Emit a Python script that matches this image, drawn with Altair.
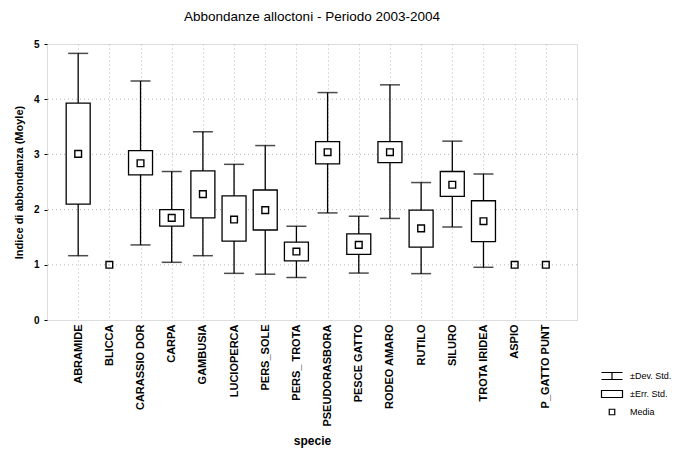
import altair as alt
import pandas as pd

species = ["ABRAMIDE", "BLICCA", "CARASSIO DOR", "CARPA", "GAMBUSIA", "LUCIOPERCA",
           "PERS_SOLE", "PERS_ TROTA", "PSEUDORASBORA", "PESCE GATTO", "RODEO AMARO",
           "RUTILO", "SILURO", "TROTA IRIDEA", "ASPIO", "P_GATTO PUNT"]
mean = [3.01, 1.00, 2.84, 1.85, 2.28, 1.82, 1.99, 1.24, 3.04, 1.36, 3.04, 1.66, 2.45, 1.79, 1.00, 1.00]
se_low = [2.10, None, 2.63, 1.70, 1.85, 1.43, 1.63, 1.07, 2.83, 1.19, 2.85, 1.32, 2.24, 1.42, None, None]
se_high = [3.93, None, 3.07, 2.00, 2.70, 2.25, 2.355, 1.41, 3.23, 1.56, 3.23, 1.99, 2.69, 2.16, None, None]
sd_low = [1.165, None, 1.36, 1.045, 1.165, 0.845, 0.83, 0.77, 1.94, 0.85, 1.84, 0.84, 1.685, 0.955, None, None]
sd_high = [4.83, None, 4.33, 2.69, 3.41, 2.82, 3.16, 1.70, 4.12, 1.88, 4.26, 2.49, 3.24, 2.645, None, None]

legend_items = ["±Dev. Std.", "±Err. Std.", "Media"]
legend_shapes = ["M-2.1,-0.7H2.1M0,-0.7V0.7M-2.1,0.7H2.1",
                 "M-2.1,-0.7H2.1V0.7H-2.1Z",
                 "M-0.55,-0.55H0.55V0.55H-0.55Z"]

df = pd.DataFrame({"specie": species, "media": mean, "se_low": se_low, "se_high": se_high,
                   "sd_low": sd_low, "sd_high": sd_high})
dfv = df.dropna()
leg = pd.DataFrame({"voce": legend_items})

FONT = "Liberation Sans"
x = alt.X("specie:N", sort=species, title="specie",
          scale=alt.Scale(type="point", padding=1),
          axis=alt.Axis(labelAngle=-90, labelFontWeight="bold", labelFontSize=11,
                        labelFont=FONT, titleFont=FONT, titleFontSize=12, titleFontWeight="bold",
                        titlePadding=9, tickSize=0, labelPadding=4, domain=False,
                        grid=True, gridDash=[1, 3], gridColor="#b8b8b8", labelColor="black",
                        titleColor="black"))
yscale = alt.Scale(domain=[0, 5], nice=False)
y = alt.Y("sd_low:Q", scale=yscale, title="Indice di abbondanza (Moyle)",
          axis=alt.Axis(values=[i * 0.25 for i in range(21)],
                        labelExpr="datum.value % 1 == 0 ? datum.label : ''",
                        labelFontWeight="bold", labelFontSize=10, labelFont=FONT,
                        titleFont=FONT, titleFontSize=11, titleFontWeight="bold",
                        tickSize=3, tickColor="black", labelPadding=5, domain=False,
                        grid=False, titlePadding=9, labelColor="black", titleColor="black"))

hgrid = alt.Chart(pd.DataFrame({"v": [1, 2, 3, 4]})).mark_rule(
    color="#b8b8b8", strokeDash=[1, 3], strokeWidth=1
).encode(y=alt.Y("v:Q", scale=yscale))

whisk = alt.Chart(dfv).mark_rule(color="black", strokeWidth=1.3).encode(
    x=x, y=y, y2="sd_high:Q")
cap_lo = alt.Chart(dfv).mark_tick(color="black", size=20, thickness=1.5).encode(
    x=x, y=alt.Y("sd_low:Q", scale=yscale))
cap_hi = alt.Chart(dfv).mark_tick(color="black", size=20, thickness=1.5).encode(
    x=x, y=alt.Y("sd_high:Q", scale=yscale))
box = alt.Chart(dfv).mark_bar(fill="white", stroke="black", strokeWidth=1.3, width=24).encode(
    x=x, y=alt.Y("se_low:Q", scale=yscale), y2="se_high:Q")
pts = alt.Chart(df).mark_square(size=45, filled=False, color="black", strokeWidth=1.4,
                                opacity=1).encode(x=x, y=alt.Y("media:Q", scale=yscale))

legend_layer = alt.Chart(leg).mark_point(opacity=0).encode(
    shape=alt.Shape("voce:N", scale=alt.Scale(domain=legend_items, range=legend_shapes),
                    legend=alt.Legend(title=None, orient="none", legendX=559, legendY=326,
                                      padding=0, symbolSize=100, symbolStrokeColor="black",
                                      symbolFillColor="transparent", symbolStrokeWidth=1.2,
                                      symbolOpacity=1, labelFont=FONT, labelFontSize=9,
                                      labelColor="black", rowPadding=6, labelOffset=12))
)

chart = alt.layer(hgrid, whisk, cap_lo, cap_hi, box, pts, legend_layer).properties(
    width=530, height=276,
    padding={"top": 1, "left": 5, "right": 0, "bottom": 5},
    title=alt.TitleParams("Abbondanze alloctoni - Periodo 2003-2004", font=FONT,
                          fontSize=13.5, fontWeight="normal", color="black", offset=16)
).configure_view(stroke="black", strokeWidth=1.5).configure(background="white")

chart.save("out.html", embed_options={"renderer": "svg", "actions": False})
